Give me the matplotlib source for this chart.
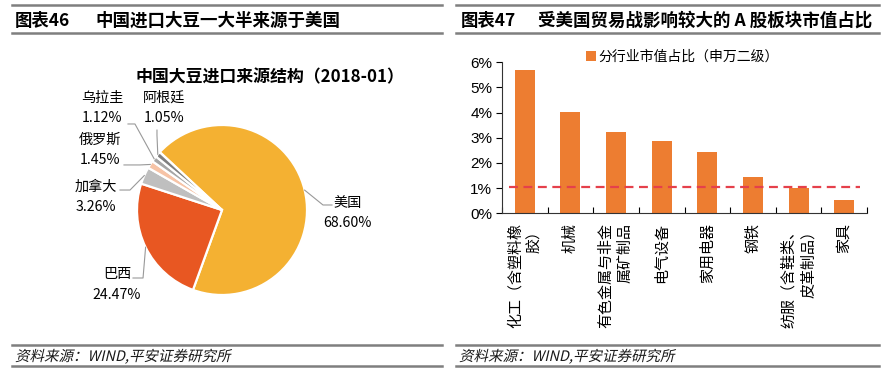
import numpy as np
import matplotlib
matplotlib.use('Agg')
import matplotlib.pyplot as plt
from matplotlib.lines import Line2D
from matplotlib.ticker import PercentFormatter, NullFormatter
from matplotlib.textpath import TextPath
from matplotlib.patches import PathPatch
from matplotlib.font_manager import FontProperties
from matplotlib.transforms import Affine2D

plt.rcParams['font.family'] = ['Noto Sans CJK SC', 'DejaVu Sans']

# left panel: soybean import sources, Jan 2018 (%)
countries = ['美国', '巴西', '加拿大', '俄罗斯', '乌拉圭', '阿根廷']
shares = [68.60, 24.47, 3.26, 1.45, 1.12, 1.05]
pie_colors = ['#F4B132', '#E85722', '#BFBFBF', '#F6C3A6', '#A6A6A6', '#7F7F7F']

# right panel: market cap share by sector (%)
sectors = ['化工（含塑料橡\n胶）', '机械', '有色金属与非金\n属矿制品', '电气设备',
           '家用电器', '钢铁', '纺服（含鞋类、\n皮革制品）', '家具']
cap_share = [5.68, 4.04, 3.22, 2.89, 2.44, 1.46, 1.02, 0.52]
avg_share = 1.06

W, H = 892, 378
fig = plt.figure(figsize=(W / 100, H / 100), dpi=100)

# grey rules above/below titles and sources
for x0, x1 in [(12, 442), (456, 879)]:
    for y in (5, 32.5, 344.5, 366):
        fig.add_artist(Line2D([x0 / W, x1 / W], [1 - y / H] * 2,
                              color='#7f7f7f', lw=1.8))

ty = 1 - 20.5 / H
fig.text(15 / W, ty, '图表46', fontsize=12.5, weight='bold', va='center')
fig.text(95 / W, ty, '中国进口大豆一大半来源于美国', fontsize=12.6, weight='bold', va='center')
fig.text(461 / W, ty, '图表47', fontsize=12.5, weight='bold', va='center')
fig.text(538 / W, ty, '受美国贸易战影响较大的 A 股板块市值占比', fontsize=12.6,
         weight='bold', va='center')


def slanted(x, y, s, size):
    # fake italic: CJK font has no italic face
    tp = TextPath((0, 0), s, size=size, prop=FontProperties(family='Noto Sans CJK SC'))
    tr = Affine2D().skew_deg(13, 0).translate(x, H - y) + \
        Affine2D().scale(1 / W, 1 / H) + fig.transFigure
    fig.add_artist(PathPatch(tp, transform=tr, color='#1a1a1a', lw=0))


slanted(15, 361, '资料来源：WIND,平安证券研究所', 14.5)
slanted(459, 361, '资料来源：WIND,平安证券研究所', 14.5)

# ---- pie ----
R = 85  # pixels per unit radius
axp = fig.add_axes([52 / W, (H - 340) / H, 340 / W, 260 / H])
wedges, _ = axp.pie(np.array(shares) / 100, normalize=False, startangle=137,
                    counterclock=False, colors=pie_colors,
                    wedgeprops=dict(edgecolor='white', linewidth=1.6))
axp.set_xlim(-170 / R, 170 / R)
axp.set_ylim(-130 / R, 130 / R)
axp.axis('off')

# label centre, elbow and end of leader line (pie units)
label_pos = [(1.476, -0.035), (-1.235, -0.876), (-1.48, 0.153),
             (-1.435, 0.71), (-1.41, 1.2), (-0.68, 1.2)]
elbows = [(1.188, 0.059), (-0.929, -0.80), (-1.082, 0.235),
          (-0.965, 0.53), (-1.024, 1.012), (-0.765, 0.88)]
ends = [(1.294, 0.059), (-1.047, -0.80), (-1.20, 0.235),
        (-1.153, 0.53), (-1.106, 1.012), (-0.765, 0.94)]

for w, name, v, lp, el, en in zip(wedges, countries, shares, label_pos, elbows, ends):
    th = np.deg2rad((w.theta1 + w.theta2) / 2)
    ex, ey = np.cos(th), np.sin(th)
    axp.plot([ex, el[0], en[0]], [ey, el[1], en[1]], color='#999999', lw=0.8,
             clip_on=False)
    axp.text(lp[0], lp[1], f'{name}\n{v:.2f}%', ha='center', va='center',
             fontsize=10.2, linespacing=1.6, clip_on=False)

fig.text(270 / W, 1 - 77 / H, '中国大豆进口来源结构（2018-01）', ha='center',
         va='center', fontsize=12.2, weight='bold')

# ---- bars ----
ax = fig.add_axes([502 / W, (H - 213.3) / H, 365 / W, 151 / H])
x = np.arange(len(sectors))
ax.bar(x, cap_share, width=0.44, color='#ED7D31', label='分行业市值占比（申万二级）')
ax.plot([x[0] - 0.35, x[-1] + 0.35], [avg_share] * 2, ls=(0, (4, 2.5)),
        color='#E5404B', lw=1.6)
ax.set_xlim(-0.5, len(sectors) - 0.5)
ax.set_ylim(0, 6)
for s in ('top', 'right'):
    ax.spines[s].set_visible(False)
for s in ('left', 'bottom'):
    ax.spines[s].set_color('#333333')

ax.set_yticks(range(7))
ax.yaxis.set_major_formatter(PercentFormatter(100, decimals=0))
ax.tick_params(axis='y', direction='out', length=4, labelsize=11, pad=3)
for t in ax.get_yticklabels():
    t.set_family(['Liberation Sans', 'DejaVu Sans'])

ax.set_xticks(np.arange(-0.5, len(sectors), 1))
ax.xaxis.set_major_formatter(NullFormatter())
ax.tick_params(axis='x', which='major', direction='in', length=4)
ax.set_xticks(x, sectors, minor=True)
ax.tick_params(axis='x', which='minor', length=0, pad=7)
for t in ax.get_xticklabels(minor=True):
    t.set(rotation=90, va='top', ha='center', ma='right', linespacing=1.45,
          fontsize=10.8)

ax.legend(loc='lower center', bbox_to_anchor=(0.494, 0.99), frameon=False,
          fontsize=10, handlelength=0.7, handleheight=0.7, handletextpad=0.2,
          borderpad=0, borderaxespad=0)

fig.savefig('out.png', dpi=100)
